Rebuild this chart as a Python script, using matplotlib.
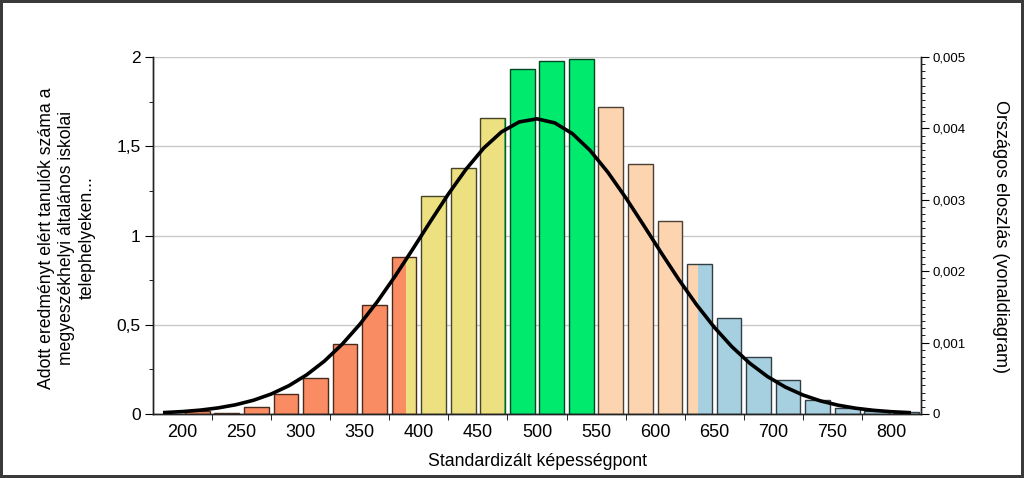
import numpy as np
import matplotlib
matplotlib.use("Agg")
import matplotlib.pyplot as plt
from matplotlib.ticker import FixedLocator, MultipleLocator, FuncFormatter
from matplotlib.colors import to_rgb

plt.rcParams['font.family'] = ['Liberation Sans', 'DejaVu Sans']

# bar centres (score bins of 25) and heights on the left axis
bin_centers = [212.5, 237.5, 262.5, 287.5, 312.5, 337.5, 362.5, 387.5, 412.5,
               437.5, 462.5, 487.5, 512.5, 537.5, 562.5, 587.5, 612.5, 637.5,
               662.5, 687.5, 712.5, 737.5, 762.5, 787.5, 812.5]
bar_values = [0.015, 0.005, 0.04, 0.11, 0.20, 0.39, 0.61, 0.88, 1.22,
              1.38, 1.66, 1.93, 1.98, 1.99, 1.72, 1.40, 1.08, 0.84,
              0.54, 0.32, 0.19, 0.08, 0.035, 0.015, 0.01]

# colour bands along the score axis
band_edges = [0, 389, 472, 552, 636, 1000]
band_colors = ['#FA8C64', '#ECE080', '#00EB6E', '#FCD4B0', '#A6D0E0']

# national distribution (right axis)
curve_x = [185, 200, 215, 230, 245, 260, 275, 290, 305, 320, 335, 350, 365,
           380, 395, 410, 425, 440, 455, 470, 485, 500, 515, 530, 545, 560,
           575, 590, 605, 620, 635, 650, 665, 680, 695, 710, 725, 740, 755,
           770, 785, 800, 815]
curve_y = [0.0000207, 0.0000340, 0.0000544, 0.0000850, 0.0001294, 0.0001925,
           0.0002795, 0.0003962, 0.0005479, 0.0007399, 0.0009755, 0.0012552,
           0.0015764, 0.0019328, 0.0023130, 0.0027019, 0.0030810, 0.0034293,
           0.0037258, 0.0039515, 0.0040907, 0.0041338, 0.0040776, 0.0039261,
           0.0036900, 0.0033853, 0.0030317, 0.0026503, 0.0022614, 0.0018835,
           0.0015314, 0.0012153, 0.0009414, 0.0007120, 0.0005254, 0.0003787,
           0.0002663, 0.0001828, 0.0001226, 0.0000802, 0.0000512, 0.0000319,
           0.0000194]

x_labels = [200, 250, 300, 350, 400, 450, 500, 550, 600, 650, 700, 750, 800]


def darker(c, f=0.3):
    r, g, b = to_rgb(c)
    return (r * f, g * f, b * f)


fig = plt.figure(figsize=(10.24, 4.78), dpi=100)
fig.patch.set_edgecolor('#3a3a3a')
fig.patch.set_linewidth(3)

ax = fig.add_axes([153 / 1024, 1 - 414 / 478, 768 / 1024, 357 / 478])
ax2 = ax.twinx()
ax.set_zorder(1)
ax2.set_zorder(2)
ax.patch.set_visible(False)
ax2.patch.set_visible(False)

width = 21
for c, v in zip(bin_centers, bar_values):
    lo, hi = c - width / 2, c + width / 2
    main = None
    for i, col in enumerate(band_colors):
        a = max(lo, band_edges[i])
        b = min(hi, band_edges[i + 1])
        if b > a:
            ax.bar(a, v, width=b - a, align='edge', color=col, linewidth=0,
                   zorder=2)
            if band_edges[i] <= c < band_edges[i + 1]:
                main = col
    ax.bar(c, v, width=width, fill=False, edgecolor=darker(main),
           linewidth=1, zorder=3)

ax.set_xlim(175, 825)
ax.set_ylim(0, 2)
ax.yaxis.set_major_locator(MultipleLocator(0.5))
ax.yaxis.set_minor_locator(MultipleLocator(0.25))
ax.yaxis.set_major_formatter(FuncFormatter(
    lambda v, p: ('%g' % v).replace('.', ',')))
ax.grid(axis='y', color='#c8c8c8', linewidth=1, zorder=0)
ax.set_axisbelow(True)

ax.xaxis.set_major_locator(FixedLocator(x_labels))
ax.xaxis.set_minor_locator(FixedLocator(np.arange(225, 800, 50)))
ax.tick_params(axis='x', which='major', length=0, labelsize=13, pad=7)
ax.tick_params(axis='x', which='minor', length=4, direction='out')
ax.tick_params(axis='y', which='major', length=6, labelsize=12.5, pad=3)
ax.tick_params(axis='y', which='minor', length=3)

ax2.plot(curve_x, curve_y, color='black', linewidth=2.6, zorder=5)
ax2.set_ylim(0, 0.005)
ax2.yaxis.set_major_locator(MultipleLocator(0.001))
ax2.yaxis.set_minor_locator(MultipleLocator(0.0001))
ax2.yaxis.set_major_formatter(FuncFormatter(
    lambda v, p: '0' if abs(v) < 1e-9 else ('%.3f' % v).replace('.', ',')))
ax2.tick_params(axis='y', which='major', length=6, labelsize=9.5, pad=2)
ax2.tick_params(axis='y', which='minor', length=3)

for a in (ax, ax2):
    a.spines['top'].set_visible(False)
    for s in ('left', 'right', 'bottom'):
        a.spines[s].set_color('#222222')
        a.spines[s].set_linewidth(1)

fig.text(67 / 1024, 1 - 238 / 478,
         'Adott eredményt elért tanulók száma a\n'
         'megyeszékhelyi általános iskolai\ntelephelyeken...',
         rotation=90, ha='center', va='center', multialignment='center',
         fontsize=12.7, linespacing=1.25)
fig.text(1000 / 1024, 1 - 237 / 478, 'Országos eloszlás (vonaldiagram)',
         rotation=270, ha='center', va='center', fontsize=13)
fig.text(537 / 1024, 1 - 461 / 478, 'Standardizált képességpont',
         ha='center', va='center', fontsize=12.8)

fig.savefig('out.png', dpi=100)
